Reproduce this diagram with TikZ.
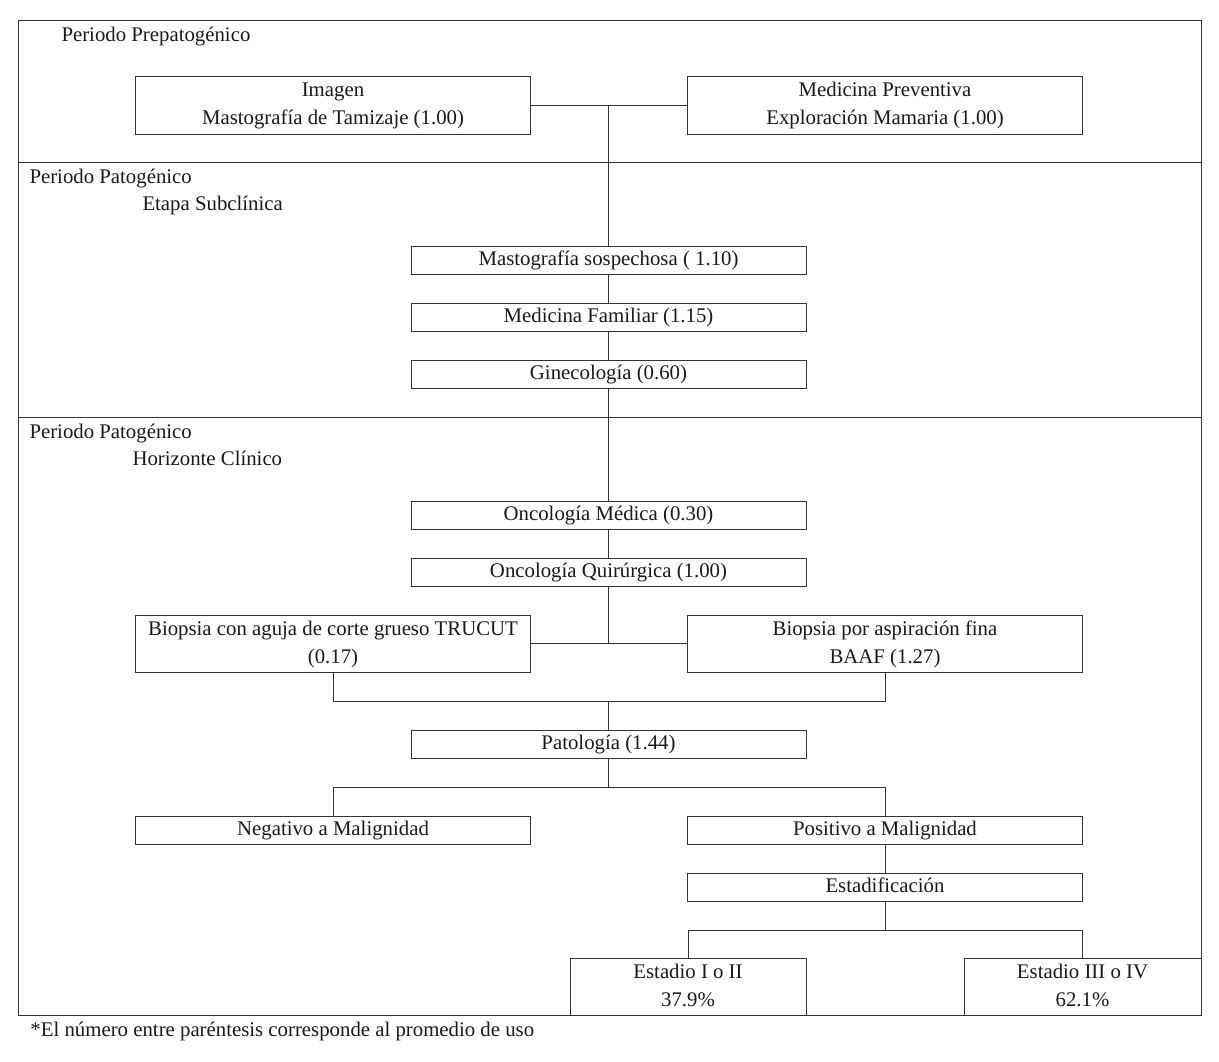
\documentclass[tikz,border=0pt]{standalone}
\usepackage{fontspec}
\setmainfont{Liberation Serif}
\begin{document}
\begin{tikzpicture}[x=1pt,y=-1pt, line width=1pt, draw=black!80,
  every node/.style={font=\fontsize{20.8}{28}\selectfont, text=black!90},
  box/.style={draw=black!80, rectangle, inner sep=0pt, minimum width=395pt, minimum height=28pt, align=center},
  tall/.style={box, minimum height=58pt},
  lbl/.style={anchor=base west, inner sep=0pt}]
\useasboundingbox (0,0) rectangle (1219,1061);
% frame and period dividers
\draw (18,20) rectangle (1201,1015);
\draw (18,162) -- (1201,162);
\draw (18,417) -- (1201,417);
% period labels
\node[lbl] (prep) at (61,41) {Periodo Prepatogénico};
\node[lbl] (pat1) at (29,183) {Periodo Patogénico};
\node[lbl] (sub) at (142,210) {Etapa Subclínica};
\node[lbl] (pat2) at (29,438) {Periodo Patogénico};
\node[lbl] (hor) at (132,465) {Horizonte Clínico};
% boxes
\node[tall] (img) at (333,105) {\strut Imagen\\Mastografía de Tamizaje (1.00)\strut};
\node[tall] (prev) at (885,105) {\strut Medicina Preventiva\\Exploración Mamaria (1.00)\strut};
\node[box] (mast) at (608.5,260) {\strut Mastografía sospechosa ( 1.10)};
\node[box] (fam) at (608.5,317) {\strut Medicina Familiar (1.15)};
\node[box] (gin) at (608.5,374) {\strut Ginecología (0.60)};
\node[box] (onm) at (608.5,515) {\strut Oncología Médica (0.30)};
\node[box] (onq) at (608.5,572) {\strut Oncología Quirúrgica (1.00)};
\node[tall, minimum height=57pt] (tru) at (333,643.5) {\strut Biopsia con aguja de corte grueso TRUCUT\\(0.17)\strut};
\node[tall, minimum height=57pt] (baaf) at (885,643.5) {\strut Biopsia por aspiración fina\\BAAF (1.27)\strut};
\node[box] (pat) at (608.5,744) {\strut Patología (1.44)};
\node[box] (neg) at (333,830) {\strut Negativo a Malignidad};
\node[box] (pos) at (885,830) {\strut Positivo a Malignidad};
\node[box] (est) at (885,887) {\strut Estadificación};
\node[tall, minimum width=236pt, minimum height=57pt] (e1) at (688,986.5) {\strut Estadio I o II\\37.9\%\strut};
\node[tall, minimum width=237pt, minimum height=57pt] (e2) at (1082.5,986.5) {\strut Estadio III o IV\\62.1\%\strut};
% footnote
\node[lbl] (nota) at (30,1036) {*El número entre paréntesis corresponde al promedio de uso};
% junctions
\coordinate (j1) at (608.5,701);
\coordinate (j2) at (608.5,787);
\coordinate (j3) at (885,930);
% connectors
\draw (img.east) -- (prev.west);
\draw (img.east -| mast.north) -- (mast.north);
\draw (mast.south) -- (fam.north);
\draw (fam.south) -- (gin.north);
\draw (gin.south) -- (onm.north);
\draw (onm.south) -- (onq.north);
\draw (tru.east) -- (baaf.west);
\draw (onq.south) -- (onq.south |- tru.east);
\draw (tru.south) |- (j1) -| (baaf.south);
\draw (j1) -- (pat.north);
\draw (pat.south) -- (j2);
\draw (neg.north) |- (j2) -| (pos.north);
\draw (pos.south) -- (est.north);
\draw (est.south) -- (j3);
\draw (e1.north) |- (j3) -| (e2.north);
\end{tikzpicture}
\end{document}
